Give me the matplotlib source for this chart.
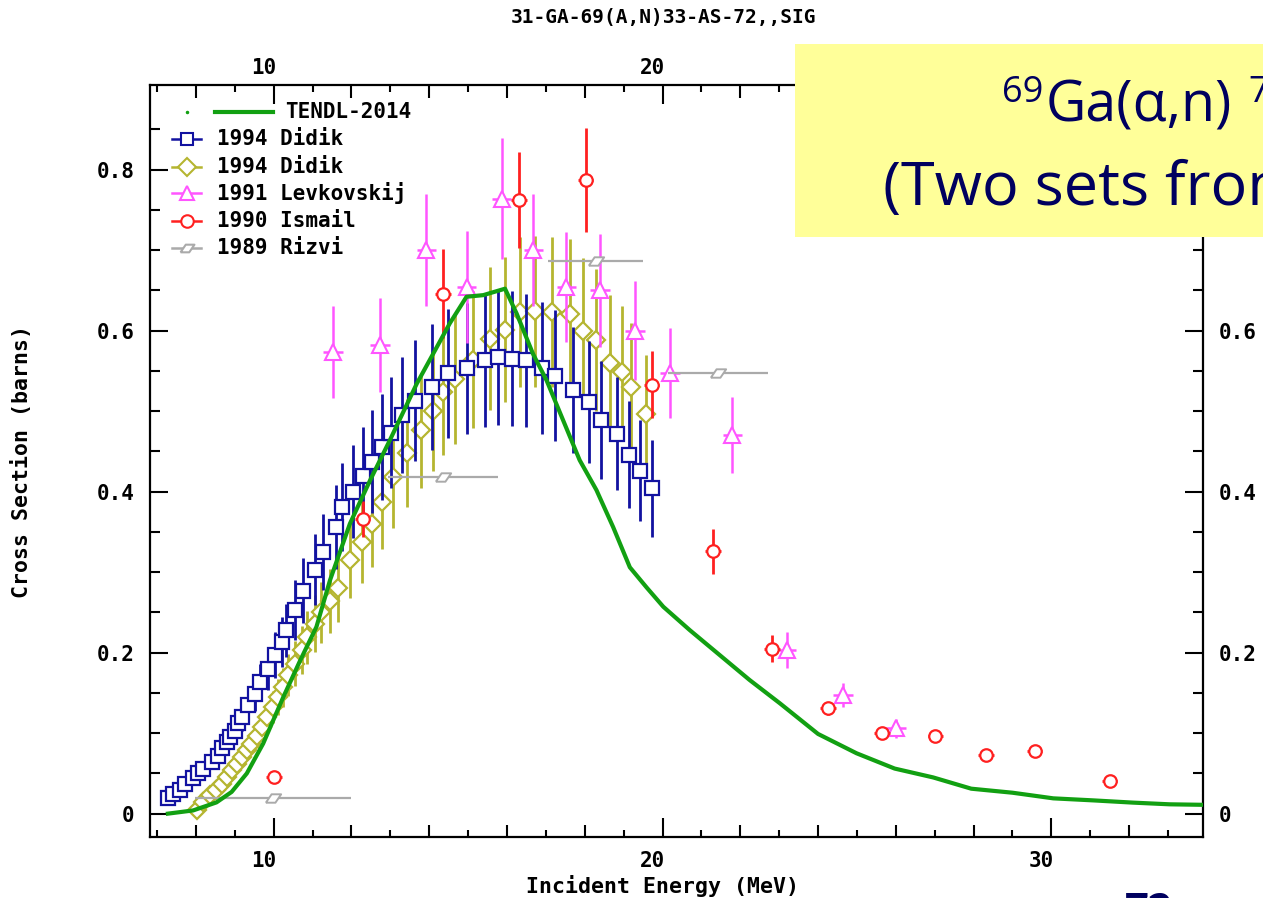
import matplotlib
matplotlib.use("Agg")
import matplotlib.pyplot as plt
from matplotlib.ticker import FixedLocator
from matplotlib.patches import Rectangle
from matplotlib.transforms import ScaledTranslation

# ---------------- data ----------------
tendl_x = [7.28, 7.93, 8.53, 8.92, 9.31, 9.73, 10.25, 10.68, 11.10, 11.45, 11.96, 12.48,
           12.99, 13.68, 14.10, 14.53, 14.96, 15.39, 15.95, 16.25, 16.67, 17.02, 17.87,
           18.30, 18.73, 19.16, 19.59, 20.02, 20.70, 21.47, 22.24, 23.02, 24.00, 24.99,
           25.97, 26.96, 27.94, 29.00, 30.05, 31.07, 32.10, 33.04, 33.86]
tendl_y = [0.0, 0.004, 0.014, 0.027, 0.050, 0.087, 0.145, 0.190, 0.232, 0.290, 0.360, 0.414,
           0.464, 0.534, 0.571, 0.609, 0.642, 0.644, 0.652, 0.621, 0.571, 0.538, 0.439,
           0.402, 0.356, 0.306, 0.281, 0.257, 0.228, 0.197, 0.166, 0.137, 0.099, 0.075,
           0.056, 0.045, 0.031, 0.026, 0.019, 0.0165, 0.0137, 0.0116, 0.011]

didik1_x = [7.29, 7.42, 7.59, 7.72, 7.93, 8.06, 8.19, 8.41, 8.58, 8.66, 8.79, 8.88, 9.01,
            9.09, 9.18, 9.35, 9.52, 9.65, 9.86, 10.03, 10.21, 10.33, 10.55, 10.76, 11.06,
            11.27, 11.60, 11.77, 12.03, 12.29, 12.52, 12.78, 13.03, 13.29, 13.63, 14.06,
            14.49, 14.96, 15.43, 15.77, 16.12, 16.50, 16.89, 17.23, 17.69, 18.11, 18.43,
            18.82, 19.13, 19.43, 19.74]
didik1_y = [0.019, 0.025, 0.029, 0.037, 0.044, 0.050, 0.056, 0.064, 0.072, 0.081, 0.089,
            0.095, 0.103, 0.112, 0.120, 0.135, 0.149, 0.163, 0.180, 0.197, 0.213, 0.228,
            0.253, 0.277, 0.303, 0.325, 0.356, 0.381, 0.400, 0.419, 0.437, 0.455, 0.473,
            0.495, 0.513, 0.530, 0.547, 0.553, 0.563, 0.567, 0.565, 0.563, 0.554, 0.544,
            0.526, 0.511, 0.489, 0.472, 0.446, 0.426, 0.404]
didik1_err = [0.003, 0.004, 0.004, 0.005, 0.006, 0.007, 0.008, 0.009, 0.010, 0.011, 0.012,
              0.013, 0.015, 0.016, 0.017, 0.019, 0.021, 0.023, 0.026, 0.028, 0.031, 0.033,
              0.037, 0.040, 0.044, 0.047, 0.052, 0.055, 0.058, 0.061, 0.064, 0.066, 0.069,
              0.072, 0.075, 0.078, 0.080, 0.081, 0.083, 0.084, 0.084, 0.083, 0.082, 0.081,
              0.078, 0.076, 0.073, 0.070, 0.066, 0.063, 0.060]

didik2_x = [8.02, 8.19, 8.36, 8.53, 8.66, 8.79, 8.92, 9.05, 9.18, 9.31, 9.43, 9.56, 9.69,
            9.82, 9.99, 10.12, 10.25, 10.38, 10.55, 10.72, 10.85, 11.06, 11.23, 11.45,
            11.66, 11.96, 12.26, 12.52, 12.79, 13.07, 13.43, 13.80, 14.09, 14.36, 14.66,
            15.13, 15.56, 15.95, 16.33, 16.72, 17.15, 17.62, 17.96, 18.30, 18.65, 18.95,
            19.20, 19.57]
didik2_y = [0.004, 0.014, 0.023, 0.029, 0.037, 0.046, 0.054, 0.062, 0.070, 0.079, 0.087,
            0.097, 0.108, 0.120, 0.132, 0.145, 0.157, 0.172, 0.186, 0.203, 0.219, 0.236,
            0.250, 0.264, 0.280, 0.315, 0.337, 0.360, 0.387, 0.418, 0.448, 0.476, 0.500,
            0.524, 0.540, 0.564, 0.590, 0.601, 0.623, 0.624, 0.623, 0.621, 0.600, 0.588,
            0.560, 0.549, 0.530, 0.496]
didik2_err = [0.001, 0.002, 0.003, 0.004, 0.006, 0.007, 0.008, 0.009, 0.011, 0.012, 0.013,
              0.015, 0.016, 0.018, 0.020, 0.022, 0.024, 0.026, 0.028, 0.030, 0.033, 0.035,
              0.038, 0.040, 0.042, 0.047, 0.051, 0.054, 0.058, 0.063, 0.067, 0.071, 0.075,
              0.079, 0.081, 0.085, 0.089, 0.090, 0.093, 0.094, 0.093, 0.093, 0.090, 0.088,
              0.084, 0.082, 0.080, 0.074]

levk_x = [11.53, 12.73, 13.93, 14.96, 15.86, 16.68, 17.53, 18.39, 19.29, 20.19, 21.80,
          23.19, 24.64, 26.01]
levk_y = [0.573, 0.582, 0.700, 0.654, 0.764, 0.700, 0.654, 0.650, 0.600, 0.547, 0.470,
          0.203, 0.147, 0.106]
levk_err = [0.057, 0.058, 0.070, 0.070, 0.075, 0.070, 0.068, 0.070, 0.061, 0.056, 0.047,
            0.022, 0.015, 0.012]

ismail_x = [10.01, 12.29, 14.36, 16.31, 18.02, 19.72, 21.30, 22.81, 24.26, 25.65, 27.02,
            28.32, 29.57, 31.50]
ismail_y = [0.046, 0.366, 0.646, 0.762, 0.787, 0.533, 0.326, 0.205, 0.131, 0.100, 0.097,
            0.073, 0.078, 0.041]
ismail_err = [0.004, 0.022, 0.055, 0.060, 0.064, 0.042, 0.028, 0.017, 0.008, 0.005, 0.004,
              0.004, 0.004, 0.003]

rizvi_x = [9.99, 14.36, 18.28, 21.43]
rizvi_y = [0.019, 0.418, 0.687, 0.547]
rizvi_xerr = [2.0, 1.42, 1.22, 1.29]

series_labels = ["TENDL-2014", "1994 Didik", "1994 Didik", "1991 Levkovskij",
                 "1990 Ismail", "1989 Rizvi"]
x_ticks = [10, 20, 30]
y_ticks = [0, 0.2, 0.4, 0.6, 0.8]
y_ticklabels = ["0", "0.2", "0.4", "0.6", "0.8"]

# ---------------- style ----------------
GREEN = "#12a012"
BLUE = "#1212a0"
OLIVE = "#b5b530"
MAGENTA = "#ff55ff"
RED = "#ff2020"
GRAY = "#aaaaaa"
NAVY = "#00005f"
MONO = "DejaVu Sans Mono"
FS = 15
RIZVI_MARKER = [(-1, -0.55), (0.25, -0.55), (1, 0.55), (-0.25, 0.55), (-1, -0.55)]

W, H = 1263, 898
fig = plt.figure(figsize=(W / 100, H / 100), dpi=100)
L, R, T, B = 150, 1203, 85, 837
ax = fig.add_axes([L / W, 1 - B / H, (R - L) / W, (B - T) / H])
ax.set_xlim(6.82, 33.9)
ax.set_ylim(-0.029, 0.905)

# data
ax.errorbar(didik2_x, didik2_y, yerr=didik2_err, fmt="D", ms=9.5, mfc="white", mec=OLIVE,
            mew=1.6, ecolor=OLIVE, elinewidth=2.0, capsize=0, zorder=3)
ax.errorbar(didik1_x, didik1_y, yerr=didik1_err, fmt="s", ms=10, mfc="white", mec=BLUE,
            mew=1.6, ecolor=BLUE, elinewidth=2.0, capsize=0, zorder=4)
ax.errorbar(levk_x, levk_y, yerr=levk_err, xerr=0.25, fmt="^", ms=11, mfc="white",
            mec=MAGENTA, mew=1.5, ecolor=MAGENTA, elinewidth=1.8, capsize=0, zorder=5)
ax.errorbar(ismail_x, ismail_y, yerr=ismail_err, xerr=0.2, fmt="o", ms=9, mfc="white",
            mec=RED, mew=1.6, ecolor=RED, elinewidth=2.0, capsize=0, zorder=6)
ax.errorbar(rizvi_x, rizvi_y, xerr=rizvi_xerr, fmt="none", ecolor=GRAY, elinewidth=1.6,
            capsize=0, zorder=6)
ax.plot(rizvi_x, rizvi_y, ls="none", marker=RIZVI_MARKER, ms=11, mfc="white", mec=GRAY,
        mew=1.4, zorder=6)
ax.plot(tendl_x, tendl_y, color=GREEN, lw=3.0, zorder=7)

# spines / ticks
for s in ax.spines.values():
    s.set_linewidth(1.6)
    s.set_color("black")
ax.xaxis.set_major_locator(FixedLocator(x_ticks))
ax.xaxis.set_minor_locator(FixedLocator([8, 12, 14, 16, 18, 22, 24, 26, 28, 32]))
ax.tick_params(axis="x", which="major", direction="in", length=14, width=1.5, top=True,
               bottom=True, labeltop=True, labelbottom=True, pad=10)
ax.tick_params(axis="x", which="minor", direction="in", length=9, width=1.5, top=True,
               bottom=True)
for loc in ("bottom", "top"):
    sec = ax.secondary_xaxis(loc)
    sec.set_xticks([7, 9, 11, 13, 15, 17, 19, 21, 23, 25, 27, 29, 31, 33])
    sec.tick_params(direction="in", length=5, width=1.5, labelbottom=False, labeltop=False)
    for s in sec.spines.values():
        s.set_visible(False)

ax.set_yticks(y_ticks)
ax.set_yticklabels(y_ticklabels)
ax.yaxis.set_minor_locator(FixedLocator([0.05, 0.1, 0.15, 0.25, 0.3, 0.35, 0.45, 0.5,
                                         0.55, 0.65, 0.7, 0.75, 0.85]))
ax.tick_params(axis="y", which="major", direction="in", length=13, width=1.5, left=True,
               right=True, labelleft=True, labelright=True, pad=11)
ax.tick_params(axis="y", which="minor", direction="in", length=7, width=1.5, left=True,
               right=True)

shift_b = ScaledTranslation(-10 / 100, 0, fig.dpi_scale_trans)
shift_t = ScaledTranslation(-10 / 100, -7 / 100, fig.dpi_scale_trans)
for tk in ax.xaxis.get_major_ticks():
    tk.label1.set_transform(tk.label1.get_transform() + shift_b)
    tk.label2.set_transform(tk.label2.get_transform() + shift_t)
for tk in ax.xaxis.get_major_ticks() + ax.yaxis.get_major_ticks():
    for lb in (tk.label1, tk.label2):
        lb.set_fontfamily(MONO)
        lb.set_fontweight("bold")
        lb.set_fontsize(FS)
# labels that sit under the yellow slide box are not visible in the reference
ax.xaxis.get_major_ticks()[2].label2.set_visible(False)
ax.yaxis.get_major_ticks()[4].label2.set_visible(False)

# axis titles
fig.text(663 / W, 1 - 18 / H, "31-GA-69(A,N)33-AS-72,,SIG", ha="center", va="center",
         family=MONO, fontweight="bold", fontsize=14)
fig.text(662 / W, 1 - 886 / H, "Incident Energy (MeV)", ha="center", va="center",
         family=MONO, fontweight="bold", fontsize=FS + 0.5)
fig.text(22 / W, 1 - 462 / H, "Cross Section (barns)", ha="center", va="center",
         rotation=90, family=MONO, fontweight="bold", fontsize=FS + 0.5)

# legend (drawn in axes fraction)
def axf(px, py):
    return ((px - L) / (R - L), (B - py) / (B - T))

rows = [111.7, 139.3, 166.7, 193.3, 220.7, 248.3]
tr = ax.transAxes
x0, y0 = axf(186.7, rows[0])
ax.plot([x0], [y0], marker="o", ms=1.5, color=GREEN, transform=tr, clip_on=False, zorder=9)
xa, _ = axf(215, rows[0]); xb, _ = axf(273, rows[0])
ax.plot([xa, xb], [y0, y0], color=GREEN, lw=3, transform=tr, clip_on=False, zorder=9)
xt, _ = axf(285, rows[0])
ax.text(xt, y0, series_labels[0], transform=tr, va="center", ha="left", family=MONO,
        fontweight="bold", fontsize=FS, zorder=9)
specs = [("s", BLUE, 9), ("D", OLIVE, 9), ("^", MAGENTA, 10), ("o", RED, 9),
         (RIZVI_MARKER, GRAY, 10)]
for (mk, col, ms), lab, py in zip(specs, series_labels[1:], rows[1:]):
    xa, yy = axf(172, py); xb, _ = axf(201, py); xm, _ = axf(186.7, py)
    ax.plot([xa, xb], [yy, yy], color=col, lw=1.8, transform=tr, clip_on=False, zorder=9)
    ax.plot([xm], [yy], marker=mk, ms=ms, mfc="white", mec=col, mew=1.5, ls="none",
            transform=tr, clip_on=False, zorder=10)
    xt, _ = axf(216.7, py)
    ax.text(xt, yy, lab, transform=tr, va="center", ha="left", family=MONO,
            fontweight="bold", fontsize=FS, zorder=9)

# yellow slide annotation box
fig.patches.append(Rectangle((795 / W, 1 - 237 / H), 600 / W, (237 - 44) / H,
                             transform=fig.transFigure, facecolor="#ffff99",
                             edgecolor="none", zorder=20))
BOXF = ["Open Sans", "DejaVu Sans"]
fig.text(1043 / W, 1 - 102 / H, "69", ha="right", va="baseline", family=BOXF,
         fontsize=26, color=NAVY, zorder=21)
fig.text(1046 / W, 1 - 121.7 / H, "Ga(\u03b1,n)", ha="left", va="baseline", family=BOXF,
         fontsize=40, color=NAVY, zorder=21)
fig.text(1248 / W, 1 - 102 / H, "72As", ha="left", va="baseline", family=BOXF,
         fontsize=26, color=NAVY, zorder=21)
fig.text(883 / W, 1 - 205 / H, "(Two sets from Didik)", ha="left", va="baseline",
         family=BOXF, fontsize=44, color=NAVY, zorder=21)
fig.text(1125 / W, 1 - 892 / H, "72", ha="left", va="top", family=BOXF, fontsize=30,
         color=NAVY, fontweight="bold", zorder=21)

fig.savefig("out.png", dpi=100)
